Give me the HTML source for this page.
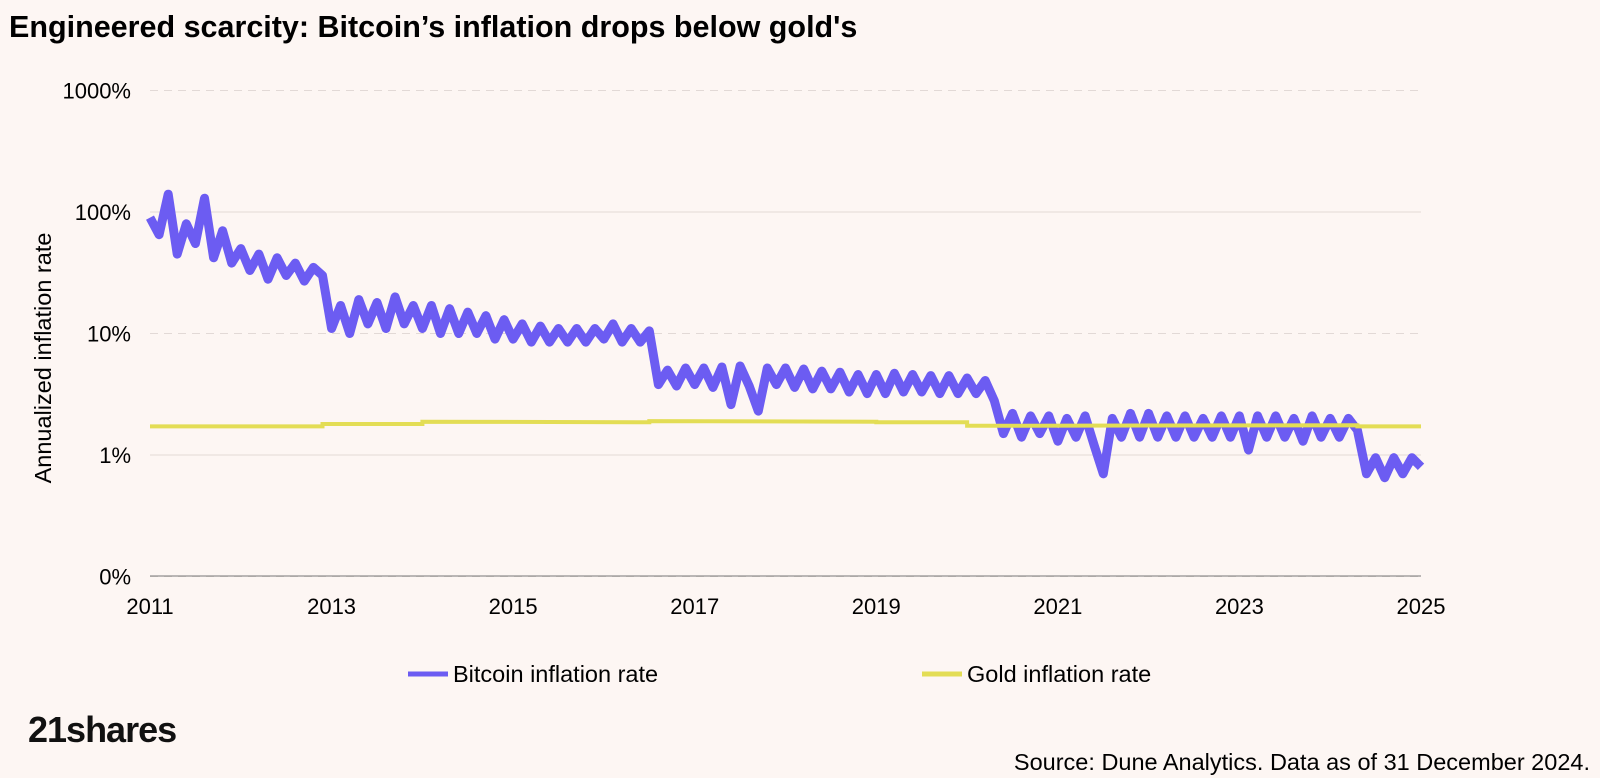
<!DOCTYPE html>
<html><head><meta charset="utf-8">
<style>
html,body{margin:0;padding:0;background:#fdf6f3;}
body{width:1600px;height:778px;overflow:hidden;font-family:"Liberation Sans",sans-serif;position:relative;}
.title{position:absolute;left:9px;top:10px;font-size:30.5px;font-weight:bold;color:#000;}
.logo{position:absolute;left:28px;top:709px;font-size:36px;font-weight:bold;letter-spacing:-1px;color:#111;}
.src{position:absolute;right:10px;top:749px;font-size:23.5px;color:#000;}
</style></head>
<body>
<div class="title">Engineered scarcity: Bitcoin’s inflation drops below gold's</div>
<svg id="chart" width="1600" height="778" style="position:absolute;left:0;top:0"></svg>
<div class="logo">21shares</div>
<div class="src">Source: Dune Analytics. Data as of 31 December 2024.</div>
<script>
const yTicks=[1000,100,10,1,0.1];
const yTickLabels=["1000%","100%","10%","1%","0%"];
const xTicks=[2011,2013,2015,2017,2019,2021,2023,2025];
const btcStart=2011, btcStep=0.1;
const btcValues=[
90,65,140,45,80,55,130,42,70,38,
50,33,45,28,42,30,38,27,35,30,
11,17,10,19,12,18,11,20,12,17,
11,17,10,16,10,15,10,14,9,13,
9,12,8.5,11.5,8.5,11,8.5,11,8.5,11,
9,12,8.5,11,8.5,10.5,3.8,5,3.7,5.2,
3.8,5.2,3.6,5.3,2.6,5.4,3.7,2.3,5.2,3.8,
5.2,3.6,5.1,3.5,4.9,3.5,4.8,3.3,4.6,3.2,
4.6,3.2,4.7,3.3,4.6,3.3,4.5,3.2,4.5,3.2,
4.3,3.2,4.1,2.8,1.5,2.2,1.4,2.1,1.5,2.1,
1.3,2.0,1.4,2.1,1.2,0.7,2.0,1.4,2.2,1.4,
2.2,1.4,2.1,1.4,2.1,1.4,2.0,1.4,2.1,1.4,
2.1,1.1,2.1,1.4,2.1,1.4,2.0,1.3,2.1,1.4,
2.0,1.4,2.0,1.6,0.7,0.95,0.65,0.95,0.7,0.95,
0.8];
const goldDates=[2011,2012.9,2012.9,2014,2014,2016.5,2016.5,2019,2019,2020,2020,2024.3,2024.3,2025];
const goldValues=[1.72,1.72,1.8,1.8,1.88,1.86,1.9,1.88,1.86,1.86,1.74,1.76,1.72,1.72];

const NS="http://www.w3.org/2000/svg";
const svg=document.getElementById('chart');
const X=d=>150+(d-2011)*(1421-150)/14;
const Y=v=>455-121.5*Math.log10(v);
function el(t,a,p){const e=document.createElementNS(NS,t);for(const k in a)e.setAttribute(k,a[k]);(p||svg).appendChild(e);return e;}

yTicks.forEach((v,i)=>{
  const g=el('line',{x1:150,x2:1421,y1:Y(v),y2:Y(v),stroke:'#e2d9d6','stroke-width':1,'stroke-dasharray':i%2?'':'8,6'});
  
  
  const t=el('text',{x:131,y:Y(v)+8,'text-anchor':'end','font-size':22,fill:'#000'});
  t.textContent=yTickLabels[i];
  
  
});
el('line',{x1:150,x2:1421,y1:576,y2:576,stroke:'#777','stroke-width':1});
xTicks.forEach(d=>{
  const t=el('text',{x:X(d),y:614,'text-anchor':'middle','font-size':22,fill:'#000'});
  t.textContent=d;
  
  
});
const yt=el('text',{x:0,y:0,'text-anchor':'middle','font-size':23.5,fill:'#000',transform:'translate(51,358) rotate(-90)'});
yt.textContent='Annualized inflation rate';



const bp=btcValues.map((v,i)=>X(btcStart+i*btcStep).toFixed(1)+','+Y(v).toFixed(1)).join(' ');
const bl=el('polyline',{points:bp,fill:'none',stroke:'#6c5cf2','stroke-width':9,'stroke-linejoin':'round'});


const gp=goldDates.map((d,i)=>X(d).toFixed(1)+','+Y(goldValues[i]).toFixed(1)).join(' ');
const gl=el('polyline',{points:gp,fill:'none',stroke:'#e3dd55','stroke-width':4});



const l1=el('line',{x1:408,x2:448,y1:674,y2:674,stroke:'#6c5cf2','stroke-width':5});


const t1=el('text',{x:453,y:682,'font-size':23.5,fill:'#000'});t1.textContent='Bitcoin inflation rate';


const l2=el('line',{x1:922,x2:962,y1:674,y2:674,stroke:'#e3dd55','stroke-width':5});


const t2=el('text',{x:967,y:682,'font-size':23.5,fill:'#000'});t2.textContent='Gold inflation rate';


</script>
</body></html>
